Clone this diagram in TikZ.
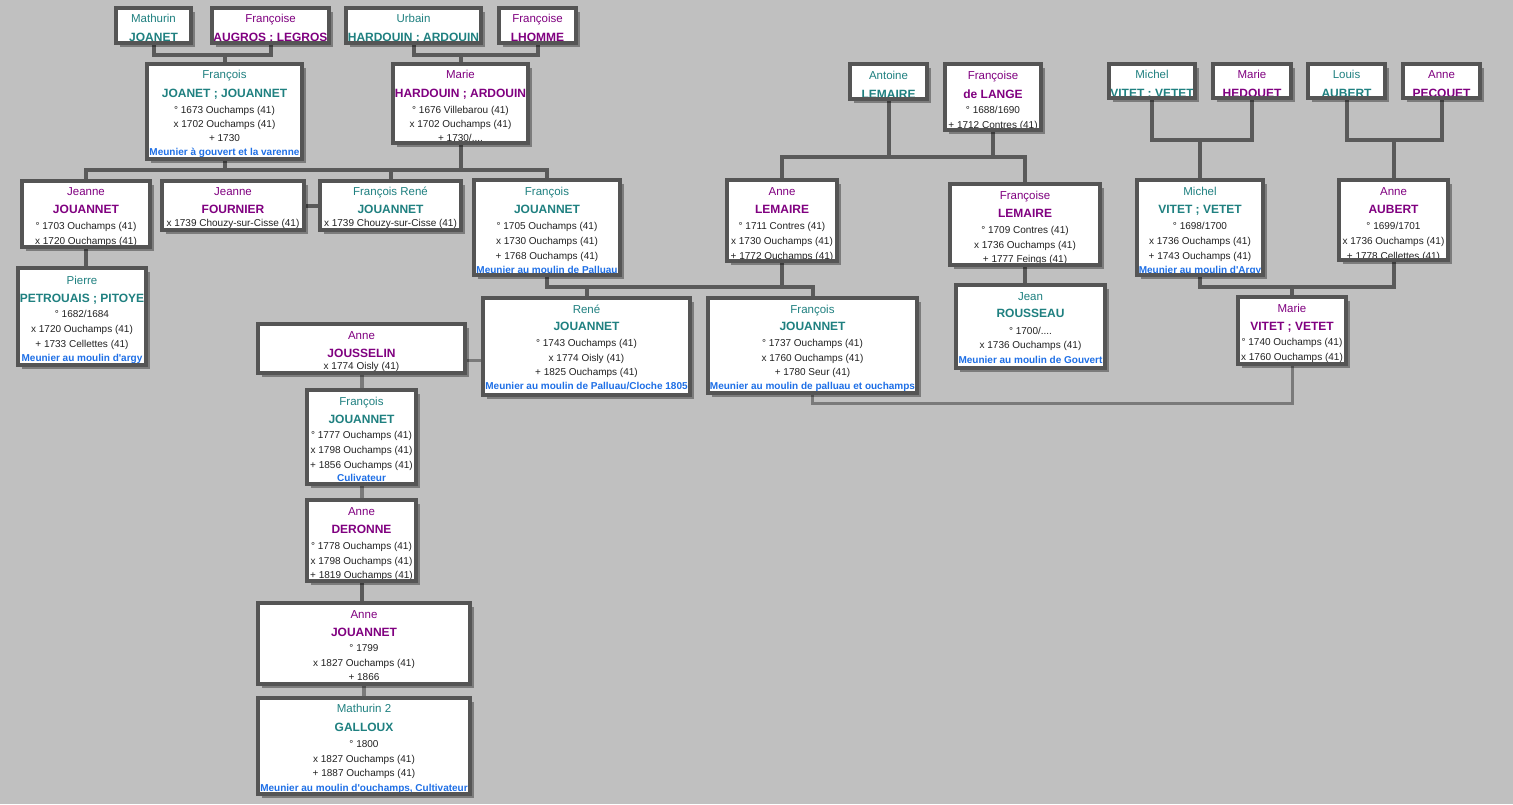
\documentclass[tikz,border=0pt]{standalone}
\usepackage{fontspec}
\setmainfont{Liberation Sans}
\usetikzlibrary{fit,shadows}
\definecolor{bgc}{HTML}{C0C0C0}
\definecolor{bordc}{HTML}{555555}
\definecolor{lnc}{HTML}{5A5A5A}
\definecolor{lnl}{HTML}{7A7A7A}
\definecolor{teal1}{HTML}{1F8080}
\definecolor{purp}{HTML}{800080}
\definecolor{occc}{HTML}{1E6FE6}
\definecolor{txc}{HTML}{222222}
\pgfdeclarelayer{bg}
\pgfsetlayers{bg,main}
\newcommand\pbox[5]{\node[pbox, fit={(#2,#3) (#4,#5)}] (#1) {};}
\newcommand\ptxt[4]{\node[#1] at (#2.north |- 0,#3) {#4};}
\begin{document}
\begin{tikzpicture}[x=1pt,y=-1pt,
 pbox/.style={inner sep=0pt, outer sep=0pt, fill=white, drop shadow={shadow xshift=4pt, shadow yshift=-4pt, fill=black, opacity=0.35}},
 bord/.style={draw=bordc, line width=4pt},
 conn/.style={draw=lnc, line width=4pt},
 connl/.style={draw=lnl, line width=3pt},
 fnm/.style={anchor=base, inner sep=0pt, font=\fontsize{11.5}{12}\selectfont},
 snm/.style={anchor=base, inner sep=0pt, font=\bfseries\fontsize{12}{13}\selectfont},
 dt/.style={anchor=base, inner sep=0pt, text=txc, font=\fontsize{10}{11}\selectfont},
 oc/.style={anchor=base, inner sep=0pt, text=occc, font=\bfseries\fontsize{10}{11}\selectfont},
 male/.style={text=teal1}, fem/.style={text=purp}]
\useasboundingbox (0,0) rectangle (1513,804);
\begin{pgfonlayer}{bg}
\fill[bgc] (0,0) rectangle (1513,804);
\end{pgfonlayer}
% boxes
\pbox{mj}{116}{8}{191}{43}
\pbox{fa}{212}{8}{329}{43}
\pbox{uh}{346}{8}{481}{43}
\pbox{fl}{499}{8}{576}{43}
\pbox{fj}{147}{64}{302}{159}
\pbox{mh}{393}{64}{528}{143}
\pbox{jj}{22}{181}{150}{247}
\pbox{jf}{162}{181}{304}{230}
\pbox{fr}{320}{181}{461}{230}
\pbox{fo}{474}{180}{620}{275}
\pbox{pp}{18}{268}{146}{365}
\pbox{ajs}{258}{324}{465}{373}
\pbox{rj}{483}{298}{690}{395}
\pbox{fjb}{708}{298}{917}{393}
\pbox{al}{850}{64}{927}{99}
\pbox{fdl}{945}{64}{1041}{130}
\pbox{anl}{727}{180}{837}{261}
\pbox{fle}{950}{184}{1100}{265}
\pbox{jr}{956}{285}{1105}{368}
\pbox{mv}{1109}{64}{1195}{98}
\pbox{mhd}{1213}{64}{1291}{98}
\pbox{la}{1308}{64}{1385}{98}
\pbox{ap}{1403}{64}{1480}{98}
\pbox{mvc}{1137}{180}{1263}{275}
\pbox{aa}{1339}{180}{1448}{260}
\pbox{mvv}{1238}{297}{1346}{364}
\pbox{fos}{307}{390}{416}{484}
\pbox{ad}{307}{500}{416}{581}
\pbox{aj}{258}{603}{470}{684}
\pbox{mg}{258}{698}{470}{794}
% connectors
\begin{pgfonlayer}{bg}
\draw[conn] (mj.south) -- (mj.south |- 0,55) -- (fa.south |- 0,55) -- (fa.south);
\draw[conn] (fj.north) -- (fj.north |- 0,55);
\draw[conn] (uh.south) -- (uh.south |- 0,55) -- (fl.south |- 0,55) -- (fl.south);
\draw[conn] (mh.north) -- (mh.north |- 0,55);
\draw[conn] (jj.north) -- (jj.north |- 0,170) -- (fo.north |- 0,170) -- (fo.north);
\draw[conn] (fj.south) -- (fj.south |- 0,170);
\draw[conn] (mh.south) -- (mh.south |- 0,170);
\draw[conn] (fr.north) -- (fr.north |- 0,170);
\draw[conn] (jf.east |- 0,206) -- (fr.west |- 0,206);
\draw[conn] (jj.south) -- (jj.south |- pp.north);
\draw[conn] (fo.south) -- (fo.south |- 0,287) -- (fjb.north |- 0,287) -- (fjb.north);
\draw[conn] (anl.south) -- (anl.south |- 0,287);
\draw[conn] (rj.north) -- (rj.north |- 0,287);
\draw[connl] (ajs.east |- 0,360) -- (rj.west |- 0,360);
\draw[connl, line width=4pt] (ajs.south) -- (fos.north);
\draw[connl, line width=4pt] (fos.south) -- (ad.north);
\draw[conn] (ad.south) -- (ad.south |- aj.north);
\draw[connl, line width=4pt] (aj.south) -- (aj.south |- mg.north);
\draw[conn] (anl.north) -- (anl.north |- 0,157) -- (fle.north |- 0,157) -- (fle.north);
\draw[conn] (al.south) -- (al.south |- 0,157);
\draw[conn] (fdl.south) -- (fdl.south |- 0,157);
\draw[conn] (fle.south) -- (fle.south |- jr.north);
\draw[conn] (mv.south) -- (mv.south |- 0,140) -- (mhd.south |- 0,140) -- (mhd.south);
\draw[conn] (mvc.north) -- (mvc.north |- 0,140);
\draw[conn] (la.south) -- (la.south |- 0,140) -- (ap.south |- 0,140) -- (ap.south);
\draw[conn] (aa.north) -- (aa.north |- 0,140);
\draw[conn] (mvc.south) -- (mvc.south |- 0,287) -- (aa.south |- 0,287) -- (aa.south);
\draw[conn] (mvv.north) -- (mvv.north |- 0,287);
\draw[connl] (fjb.south) -- (fjb.south |- 0,403) -- (mvv.south |- 0,403) -- (mvv.south);
\end{pgfonlayer}
% texts
\ptxt{fnm,male}{mj}{22}{Mathurin}
\ptxt{snm,male}{mj}{41}{JOANET}
\ptxt{fnm,fem}{fa}{22}{Françoise}
\ptxt{snm,fem}{fa}{41}{AUGROS ; LEGROS}
\ptxt{fnm,male}{uh}{22}{Urbain}
\ptxt{snm,male}{uh}{41}{HARDOUIN ; ARDOUIN}
\ptxt{fnm,fem}{fl}{22}{Françoise}
\ptxt{snm,fem}{fl}{41}{LHOMME}
%
\ptxt{fnm,male}{fj}{78}{François}
\ptxt{snm,male}{fj}{97}{JOANET ; JOUANNET}
\ptxt{dt}{fj}{113.5}{° 1673 Ouchamps (41)}
\ptxt{dt}{fj}{127.5}{x 1702 Ouchamps (41)}
\ptxt{dt}{fj}{141.5}{+ 1730}
\ptxt{oc}{fj}{155.5}{Meunier à gouvert et la varenne}
\ptxt{fnm,fem}{mh}{78}{Marie}
\ptxt{snm,fem}{mh}{97}{HARDOUIN ; ARDOUIN}
\ptxt{dt}{mh}{113.5}{° 1676 Villebarou (41)}
\ptxt{dt}{mh}{127.5}{x 1702 Ouchamps (41)}
\ptxt{dt}{mh}{141.5}{+ 1730/....}
%
\ptxt{fnm,fem}{jj}{195}{Jeanne}
\ptxt{snm,fem}{jj}{213}{JOUANNET}
\ptxt{dt}{jj}{229.5}{° 1703 Ouchamps (41)}
\ptxt{dt}{jj}{244.5}{x 1720 Ouchamps (41)}
\ptxt{fnm,fem}{jf}{195}{Jeanne}
\ptxt{snm,fem}{jf}{213}{FOURNIER}
\ptxt{dt}{jf}{226.5}{x 1739 Chouzy-sur-Cisse (41)}
\ptxt{fnm,male}{fr}{195}{François René}
\ptxt{snm,male}{fr}{213}{JOUANNET}
\ptxt{dt}{fr}{226.5}{x 1739 Chouzy-sur-Cisse (41)}
\ptxt{fnm,male}{fo}{195}{François}
\ptxt{snm,male}{fo}{213}{JOUANNET}
\ptxt{dt}{fo}{229.5}{° 1705 Ouchamps (41)}
\ptxt{dt}{fo}{244.5}{x 1730 Ouchamps (41)}
\ptxt{dt}{fo}{259.5}{+ 1768 Ouchamps (41)}
\ptxt{oc}{fo}{273.5}{Meunier au moulin de Palluau}
%
\ptxt{fnm,male}{pp}{284}{Pierre}
\ptxt{snm,male}{pp}{302}{PETROUAIS ; PITOYE}
\ptxt{dt}{pp}{317.5}{° 1682/1684}
\ptxt{dt}{pp}{332.5}{x 1720 Ouchamps (41)}
\ptxt{dt}{pp}{347.5}{+ 1733 Cellettes (41)}
\ptxt{oc}{pp}{361.5}{Meunier au moulin d\textquotesingle argy}
%
\ptxt{fnm,fem}{ajs}{339}{Anne}
\ptxt{snm,fem}{ajs}{357}{JOUSSELIN}
\ptxt{dt}{ajs}{369.5}{x 1774 Oisly (41)}
\ptxt{fnm,male}{rj}{313}{René}
\ptxt{snm,male}{rj}{330}{JOUANNET}
\ptxt{dt}{rj}{346.5}{° 1743 Ouchamps (41)}
\ptxt{dt}{rj}{361.5}{x 1774 Oisly (41)}
\ptxt{dt}{rj}{375.5}{+ 1825 Ouchamps (41)}
\ptxt{oc}{rj}{389.5}{Meunier au moulin de Palluau/Cloche 1805}
\ptxt{fnm,male}{fjb}{313}{François}
\ptxt{snm,male}{fjb}{330}{JOUANNET}
\ptxt{dt}{fjb}{346.5}{° 1737 Ouchamps (41)}
\ptxt{dt}{fjb}{361.5}{x 1760 Ouchamps (41)}
\ptxt{dt}{fjb}{375.5}{+ 1780 Seur (41)}
\ptxt{oc}{fjb}{389.5}{Meunier au moulin de palluau et ouchamps}
%
\ptxt{fnm,male}{al}{79}{Antoine}
\ptxt{snm,male}{al}{98}{LEMAIRE}
\ptxt{fnm,fem}{fdl}{79}{Françoise}
\ptxt{snm,fem}{fdl}{98}{de LANGE}
\ptxt{dt}{fdl}{113.5}{° 1688/1690}
\ptxt{dt}{fdl}{128.5}{+ 1712 Contres (41)}
\ptxt{fnm,fem}{anl}{195}{Anne}
\ptxt{snm,fem}{anl}{213}{LEMAIRE}
\ptxt{dt}{anl}{229.5}{° 1711 Contres (41)}
\ptxt{dt}{anl}{244.5}{x 1730 Ouchamps (41)}
\ptxt{dt}{anl}{259.5}{+ 1772 Ouchamps (41)}
\ptxt{fnm,fem}{fle}{199}{Françoise}
\ptxt{snm,fem}{fle}{217}{LEMAIRE}
\ptxt{dt}{fle}{233.5}{° 1709 Contres (41)}
\ptxt{dt}{fle}{248.5}{x 1736 Ouchamps (41)}
\ptxt{dt}{fle}{262.5}{+ 1777 Feings (41)}
\ptxt{fnm,male}{jr}{300}{Jean}
\ptxt{snm,male}{jr}{317}{ROUSSEAU}
\ptxt{dt}{jr}{334.5}{° 1700/....}
\ptxt{dt}{jr}{348.5}{x 1736 Ouchamps (41)}
\ptxt{oc}{jr}{363.5}{Meunier au moulin de Gouvert}
%
\ptxt{fnm,male}{mv}{78}{Michel}
\ptxt{snm,male}{mv}{97}{VITET ; VETET}
\ptxt{fnm,fem}{mhd}{78}{Marie}
\ptxt{snm,fem}{mhd}{97}{HEDOUET}
\ptxt{fnm,male}{la}{78}{Louis}
\ptxt{snm,male}{la}{97}{AUBERT}
\ptxt{fnm,fem}{ap}{78}{Anne}
\ptxt{snm,fem}{ap}{97}{PECQUET}
\ptxt{fnm,male}{mvc}{195}{Michel}
\ptxt{snm,male}{mvc}{213}{VITET ; VETET}
\ptxt{dt}{mvc}{229.5}{° 1698/1700}
\ptxt{dt}{mvc}{244.5}{x 1736 Ouchamps (41)}
\ptxt{dt}{mvc}{259.5}{+ 1743 Ouchamps (41)}
\ptxt{oc}{mvc}{273.5}{Meunier au moulin d\textquotesingle Argy}
\ptxt{fnm,fem}{aa}{195}{Anne}
\ptxt{snm,fem}{aa}{213}{AUBERT}
\ptxt{dt}{aa}{229.5}{° 1699/1701}
\ptxt{dt}{aa}{244.5}{x 1736 Ouchamps (41)}
\ptxt{dt}{aa}{259.5}{+ 1778 Cellettes (41)}
\ptxt{fnm,fem}{mvv}{312}{Marie}
\ptxt{snm,fem}{mvv}{330}{VITET ; VETET}
\ptxt{dt}{mvv}{345.5}{° 1740 Ouchamps (41)}
\ptxt{dt}{mvv}{360.5}{x 1760 Ouchamps (41)}
%
\ptxt{fnm,male}{fos}{405}{François}
\ptxt{snm,male}{fos}{423}{JOUANNET}
\ptxt{dt}{fos}{438.5}{° 1777 Ouchamps (41)}
\ptxt{dt}{fos}{453.5}{x 1798 Ouchamps (41)}
\ptxt{dt}{fos}{468.5}{+ 1856 Ouchamps (41)}
\ptxt{oc}{fos}{481.5}{Culivateur}
\ptxt{fnm,fem}{ad}{515}{Anne}
\ptxt{snm,fem}{ad}{533}{DERONNE}
\ptxt{dt}{ad}{549.5}{° 1778 Ouchamps (41)}
\ptxt{dt}{ad}{564.5}{x 1798 Ouchamps (41)}
\ptxt{dt}{ad}{578.5}{+ 1819 Ouchamps (41)}
\ptxt{fnm,fem}{aj}{618}{Anne}
\ptxt{snm,fem}{aj}{636}{JOUANNET}
\ptxt{dt}{aj}{651.5}{° 1799}
\ptxt{dt}{aj}{666.5}{x 1827 Ouchamps (41)}
\ptxt{dt}{aj}{680.5}{+ 1866}
\ptxt{fnm,male}{mg}{712}{Mathurin 2}
\ptxt{snm,male}{mg}{731}{GALLOUX}
\ptxt{dt}{mg}{747.5}{° 1800}
\ptxt{dt}{mg}{762.5}{x 1827 Ouchamps (41)}
\ptxt{dt}{mg}{776.5}{+ 1887 Ouchamps (41)}
\ptxt{oc}{mg}{791.5}{Meunier au moulin d\textquotesingle ouchamps, Cultivateur}
% borders on top
\foreach \n in {mj,fa,uh,fl,fj,mh,jj,jf,fr,fo,pp,ajs,rj,fjb,al,fdl,anl,fle,jr,mv,mhd,la,ap,mvc,aa,mvv,fos,ad,aj,mg}
  \draw[bord] (\n.north west) rectangle (\n.south east);
\end{tikzpicture}
\end{document}
